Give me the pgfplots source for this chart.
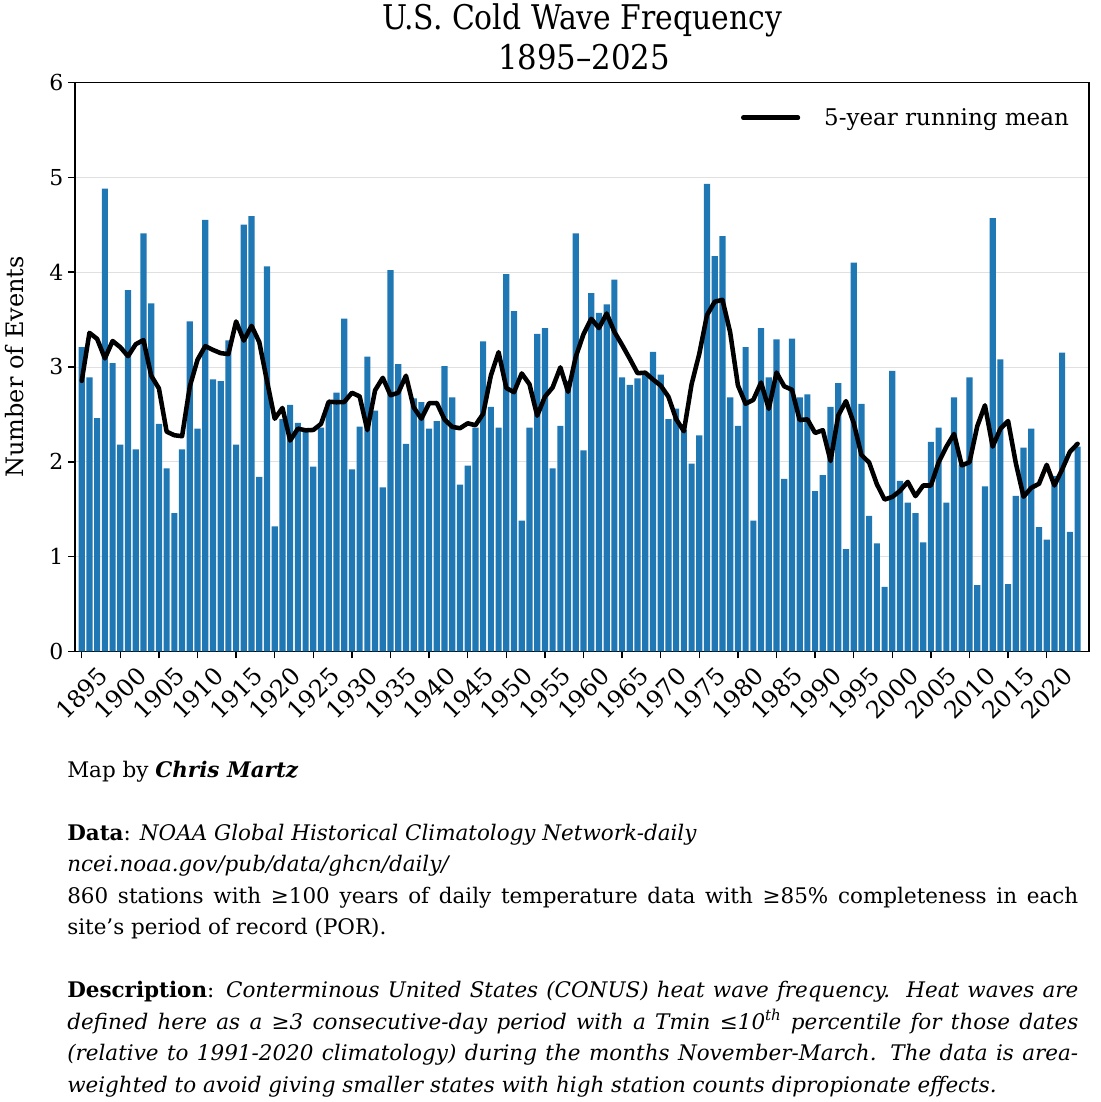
\documentclass[border=0pt]{standalone}
\usepackage{fontspec}
\setmainfont{DejaVu Serif}
\usepackage{graphicx}
\usepackage{pgfplots}
\pgfplotsset{compat=1.18}
\usepackage{pgfplotstable}

\definecolor{barblue}{RGB}{31,119,180}

% yearly counts
\pgfplotstableread{
year n
1895 3.21
1896 2.89
1897 2.46
1898 4.88
1899 3.04
1900 2.18
1901 3.81
1902 2.13
1903 4.41
1904 3.67
1905 2.40
1906 1.93
1907 1.46
1908 2.13
1909 3.48
1910 2.35
1911 4.55
1912 2.87
1913 2.85
1914 3.28
1915 2.18
1916 4.50
1917 4.59
1918 1.84
1919 4.06
1920 1.32
1921 2.45
1922 2.60
1923 2.41
1924 2.34
1925 1.95
1926 2.36
1927 2.62
1928 2.73
1929 3.51
1930 1.92
1931 2.37
1932 3.11
1933 2.54
1934 1.73
1935 4.02
1936 3.03
1937 2.19
1938 2.67
1939 2.63
1940 2.35
1941 2.43
1942 3.01
1943 2.68
1944 1.76
1945 1.96
1946 2.36
1947 3.27
1948 2.58
1949 2.36
1950 3.98
1951 3.59
1952 1.38
1953 2.36
1954 3.35
1955 3.41
1956 1.93
1957 2.38
1958 2.85
1959 4.41
1960 2.12
1961 3.78
1962 3.57
1963 3.66
1964 3.92
1965 2.89
1966 2.81
1967 2.88
1968 2.93
1969 3.16
1970 2.92
1971 2.45
1972 2.56
1973 2.34
1974 1.98
1975 2.28
1976 4.93
1977 4.17
1978 4.38
1979 2.68
1980 2.38
1981 3.21
1982 1.38
1983 3.41
1984 2.89
1985 3.29
1986 1.82
1987 3.30
1988 2.68
1989 2.71
1990 1.69
1991 1.86
1992 2.58
1993 2.83
1994 1.08
1995 4.10
1996 2.61
1997 1.43
1998 1.14
1999 0.68
2000 2.96
2001 1.80
2002 1.57
2003 1.46
2004 1.15
2005 2.21
2006 2.36
2007 1.57
2008 2.68
2009 1.97
2010 2.89
2011 0.70
2012 1.74
2013 4.57
2014 3.08
2015 0.71
2016 1.64
2017 2.15
2018 2.35
2019 1.31
2020 1.18
2021 1.85
2022 3.15
2023 1.26
2024 2.16
}\bars

% 5-year centred running mean
\pgfplotstableread{
year m
1895 2.853
1896 3.360
1897 3.296
1898 3.090
1899 3.274
1900 3.208
1901 3.114
1902 3.240
1903 3.284
1904 2.908
1905 2.774
1906 2.318
1907 2.280
1908 2.270
1909 2.794
1910 3.076
1911 3.220
1912 3.180
1913 3.146
1914 3.136
1915 3.480
1916 3.278
1917 3.434
1918 3.262
1919 2.852
1920 2.454
1921 2.568
1922 2.224
1923 2.350
1924 2.332
1925 2.336
1926 2.400
1927 2.634
1928 2.628
1929 2.630
1930 2.728
1931 2.690
1932 2.334
1933 2.754
1934 2.886
1935 2.702
1936 2.728
1937 2.908
1938 2.574
1939 2.454
1940 2.618
1941 2.620
1942 2.446
1943 2.368
1944 2.354
1945 2.406
1946 2.386
1947 2.506
1948 2.910
1949 3.156
1950 2.778
1951 2.734
1952 2.932
1953 2.818
1954 2.486
1955 2.686
1956 2.784
1957 2.996
1958 2.738
1959 3.108
1960 3.346
1961 3.508
1962 3.410
1963 3.564
1964 3.370
1965 3.232
1966 3.086
1967 2.934
1968 2.940
1969 2.868
1970 2.804
1971 2.686
1972 2.450
1973 2.322
1974 2.818
1975 3.140
1976 3.548
1977 3.688
1978 3.708
1979 3.364
1980 2.806
1981 2.612
1982 2.654
1983 2.836
1984 2.558
1985 2.942
1986 2.796
1987 2.760
1988 2.440
1989 2.448
1990 2.304
1991 2.334
1992 2.008
1993 2.490
1994 2.640
1995 2.410
1996 2.072
1997 1.992
1998 1.764
1999 1.602
2000 1.630
2001 1.694
2002 1.788
2003 1.638
2004 1.750
2005 1.750
2006 1.994
2007 2.158
2008 2.294
2009 1.962
2010 1.996
2011 2.374
2012 2.596
2013 2.160
2014 2.348
2015 2.430
2016 1.986
2017 1.632
2018 1.726
2019 1.768
2020 1.968
2021 1.750
2022 1.920
2023 2.105
2024 2.190
}\runmean

% justified caption line of a fixed width
\newlength\jw
\newlength\tw
\setlength\tw{758.25pt}
\newcommand\jline[1]{\settowidth\jw{#1}\ifdim\jw>\tw\resizebox{\tw}{\height}{#1}\else\makebox[\tw][s]{#1}\fi}

\begin{document}
\begin{tikzpicture}
\path (0,0) rectangle (825pt,-826.5pt);

\begin{axis}[
    at={(56.25pt,-488.6pt)}, anchor=south west,
    scale only axis, width=760.5pt, height=426.75pt,
    xmin=1894.13, xmax=2025.48, ymin=0, ymax=6,
    xtick={1895,1900,...,2020}, ytick={0,1,...,6},
    tick pos=left, tick align=outside,
    major tick length=5.25pt,
    major tick style={line width=1.1pt, black},
    axis line style={line width=1.4pt},
    /pgf/number format/1000 sep={},
    /pgf/number format/assume math mode=true,
    tick label style={font=\fontsize{16.5pt}{16.5pt}\selectfont},
    xticklabel style={font=\fontsize{18pt}{18pt}\selectfont,
        yshift=-26pt, rotate=45, anchor=center},
    ylabel={Number of Events},
    ylabel style={font=\fontsize{18pt}{18pt}\selectfont,
        at={(axis description cs:-0.0592,0.5)}, anchor=center},
    ymajorgrids,
    grid style={line width=0.6pt, black!12},
    legend style={at={(axis description cs:0.983,0.938)}, anchor=east,
        draw=none, fill=none, inner sep=0pt,
        font=\fontsize{17.25pt}{17.25pt}\selectfont,
        /tikz/every odd column/.append style={column sep=16pt}},
    legend cell align=left,
    legend image code/.code={\draw[#1] (0pt,0pt) -- (41pt,0pt);},
]
\addplot[ybar, bar width=0.8, fill=barblue, draw=none, forget plot]
    table[x=year, y=n] {\bars};
\addplot[black, line width=3.4pt, line join=round, line cap=round]
    table[x=year, y=m] {\runmean};
\addlegendentry{5-year running mean}
\end{axis}

% title
\node[anchor=base, inner sep=0pt] at (436.5pt,-22.5pt)
    {\resizebox{300pt}{\height}{\fontsize{25.5pt}{25.5pt}\selectfont U.S. Cold Wave Frequency}};
\node[anchor=base, inner sep=0pt] at (438pt,-52.5pt)
    {\resizebox{129pt}{\height}{\fontsize{25.5pt}{25.5pt}\selectfont 1895–2025}};

% notes under the chart
\begin{scope}[every node/.style={anchor=base west, inner sep=0pt,
    font=\fontsize{16.1pt}{23.6pt}\selectfont}]
\node at (50.25pt,-582.75pt) {Map by \textbf{\textit{Chris Martz}}};
\node at (50.25pt,-630pt) {\textbf{Data}: \textit{NOAA Global Historical Climatology Network-daily}};
\node at (50.25pt,-653.6pt) {\textit{ncei.noaa.gov/pub/data/ghcn/daily/}};
\node at (50.25pt,-677.25pt) {\jline{860 stations with ≥100 years of daily temperature data with ≥85\% completeness in each}};
\node at (50.25pt,-700.9pt) {site’s period of record (POR).};
\node at (50.25pt,-748.1pt) {\jline{\textbf{Description}: \textit{Conterminous United States (CONUS) heat wave frequency.\ \ Heat waves are}}};
\node at (50.25pt,-771.75pt) {\jline{\textit{defined here as a ≥3 consecutive-day period with a Tmin ≤10\textsuperscript{th} percentile for those dates}}};
\node at (50.25pt,-795.4pt) {\jline{\textit{(relative to 1991-2020 climatology) during the months November-March. The data is area-}}};
\node at (50.25pt,-819pt) {\textit{weighted to avoid giving smaller states with high station counts dipropionate effects.}};
\end{scope}
\end{tikzpicture}
\end{document}
